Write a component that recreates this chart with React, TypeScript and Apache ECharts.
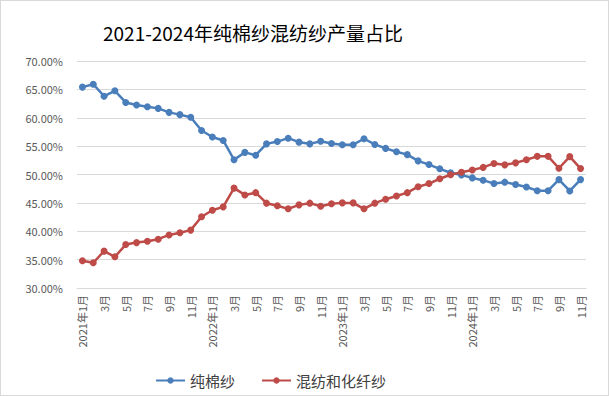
import React, { useEffect, useRef } from "react";
import * as echarts from "echarts";

const years = ["2021", "2022", "2023", "2024"];
const monthsPerYear = [12, 12, 12, 11];
const categories: string[] = [];
years.forEach((y, i) => {
  for (let m = 1; m <= monthsPerYear[i]; m++) {
    categories.push(m === 1 ? `${y}年${m}月` : `${m}月`);
  }
});

const pureCotton = [
  65.4, 65.9, 63.8, 64.75, 62.7, 62.25, 61.95, 61.65, 60.95, 60.55, 60.1, 57.75,
  56.6, 56.0, 52.6, 53.9, 53.4, 55.4, 55.8, 56.4, 55.7, 55.4, 55.85, 55.45,
  55.25, 55.25, 56.3, 55.3, 54.6, 54.0, 53.5, 52.4, 51.75, 51.0, 50.3, 49.9,
  49.4, 49.0, 48.4, 48.65, 48.25, 47.8, 47.15, 47.15, 49.1, 47.1, 49.1,
];
const blended = [
  34.8, 34.45, 36.5, 35.5, 37.65, 38.0, 38.25, 38.6, 39.35, 39.75, 40.2, 42.55,
  43.7, 44.3, 47.6, 46.4, 46.8, 44.95, 44.5, 43.95, 44.65, 44.95, 44.4, 44.85,
  45.0, 45.0, 43.95, 44.95, 45.65, 46.2, 46.8, 47.85, 48.4, 49.25, 49.95, 50.4,
  50.8, 51.25, 51.95, 51.7, 52.05, 52.6, 53.2, 53.2, 51.1, 53.15, 51.05,
];
const seriesNames = ["纯棉纱", "混纺和化纤纱"];
const titleText = "2021-2024年纯棉纱混纺纱产量占比";

const FONT = "'Noto Sans CJK SC', 'Microsoft YaHei', sans-serif";

export default function App() {
  const ref = useRef<HTMLDivElement>(null);
  useEffect(() => {
    document.body.style.margin = "0";
    const chart = echarts.init(ref.current!, undefined, { renderer: "svg" });
    chart.setOption({
      animation: false,
      backgroundColor: "#ffffff",
      textStyle: { fontFamily: FONT },
      title: {
        text: titleText,
        left: 97,
        top: 17,
        textStyle: { fontSize: 19, fontWeight: "normal", color: "#000000", fontFamily: FONT },
      },
      grid: { left: 76, right: 22, top: 60, bottom: 107, containLabel: false },
      legend: {
        left: 149,
        top: 367,
        itemWidth: 29,
        itemHeight: 8,
        itemGap: 26,
        textStyle: { fontSize: 15, color: "#404040", fontFamily: FONT },
        data: seriesNames,
      },
      xAxis: {
        type: "category",
        data: categories,
        boundaryGap: true,
        axisTick: { show: false },
        axisLine: { lineStyle: { color: "#d9d9d9", width: 1 } },
        axisLabel: {
          interval: 1,
          rotate: 90,
          fontSize: 11,
          color: "#595959",
          margin: 7,
          fontFamily: FONT,
        },
      },
      yAxis: {
        type: "value",
        min: 30,
        max: 70,
        interval: 5,
        axisLine: { show: false },
        axisTick: { show: false },
        splitLine: { lineStyle: { color: "#d9d9d9", width: 1 } },
        axisLabel: {
          fontSize: 11,
          color: "#595959",
          margin: 14,
          formatter: (v: number) => v.toFixed(2) + "%",
          fontFamily: FONT,
        },
      },
      series: [
        {
          name: seriesNames[0],
          type: "line",
          data: pureCotton,
          symbol: "circle",
          symbolSize: 7,
          color: "#4a7ebb",
          lineStyle: { width: 2.5, color: "#4a7ebb" },
          itemStyle: { color: "#4a7ebb" },
        },
        {
          name: seriesNames[1],
          type: "line",
          data: blended,
          symbol: "circle",
          symbolSize: 7,
          color: "#be4b48",
          lineStyle: { width: 2.5, color: "#be4b48" },
          itemStyle: { color: "#be4b48" },
        },
      ],
    });
    return () => chart.dispose();
  }, []);
  return (
    <div
      ref={ref}
      style={{
        width: 609,
        height: 396,
        border: "1px solid #d9d9d9",
        boxSizing: "border-box",
      }}
    />
  );
}
